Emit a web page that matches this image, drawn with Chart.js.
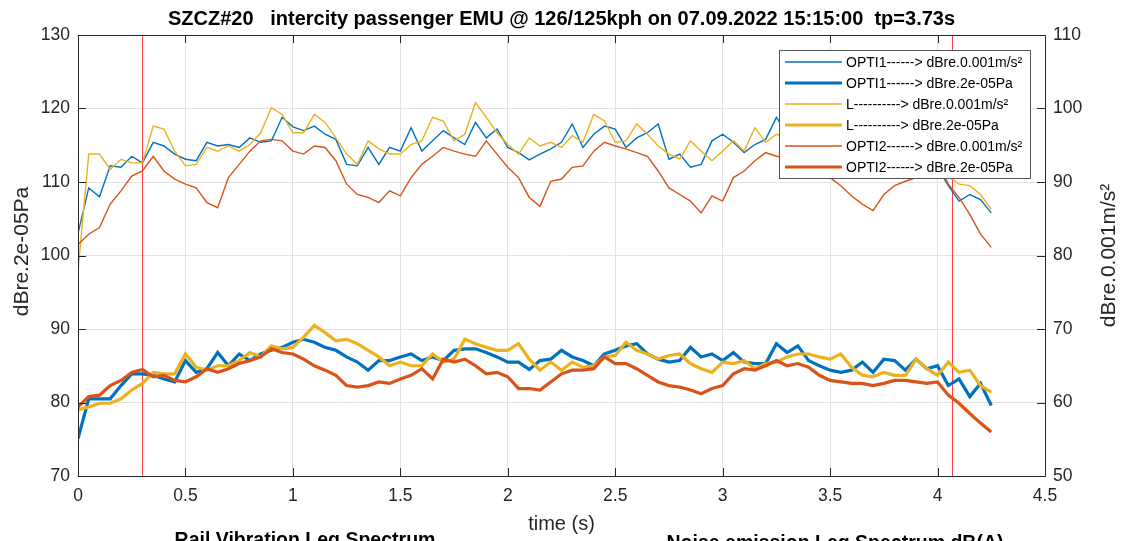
<!DOCTYPE html>
<html>
<head>
<meta charset="utf-8">
<script src="https://cdn.jsdelivr.net/npm/chart.js@4.4.1/dist/chart.umd.min.js"></script>
<style>
html,body{margin:0;padding:0;background:#fff;overflow:hidden;}
#wrap{position:relative;width:1124px;height:541px;}
canvas{display:block;}
</style>
</head>
<body>
<div id="wrap"><canvas id="c" width="1124" height="541"></canvas></div>
<script>
// ---- data ----
const chartTitle = "SZCZ#20   intercity passenger EMU @ 126/125kph on 07.09.2022 15:15:00  tp=3.73s";
const xTitle = "time (s)";
const yLeftTitle = "dBre.2e-05Pa";
const yRightTitle = "dBre.0.001m/s\u00B2";
const bottomTitles = ["Rail Vibration Leq Spectrum", "Noise emission Leq Spectrum dB(A)"];
const xTicks = [0,0.5,1,1.5,2,2.5,3,3.5,4,4.5];
const yLeftTicks = [70,80,90,100,110,120,130];
const yRightTicks = [50,60,70,80,90,100,110];
const markers = [0.3, 4.065];

const times = [0,0.05,0.1,0.15,0.2,0.25,0.3,0.35,0.4,0.45,0.5,0.55,0.6,0.65,0.7,0.75,0.8,0.85,0.9,0.95,
1,1.05,1.1,1.15,1.2,1.25,1.3,1.35,1.4,1.45,1.5,1.55,1.6,1.65,1.7,1.75,1.8,1.85,1.9,1.95,
2,2.05,2.1,2.15,2.2,2.25,2.3,2.35,2.4,2.45,2.5,2.55,2.6,2.65,2.7,2.75,2.8,2.85,2.9,2.95,
3,3.05,3.1,3.15,3.2,3.25,3.3,3.35,3.4,3.45,3.5,3.55,3.6,3.65,3.7,3.75,3.8,3.85,3.9,3.95,
4,4.05,4.1,4.15,4.2,4.25];

// vibration (right axis, dBre.0.001m/s²)
const opti1Vib = [83,89.2,88,92.2,92,93.5,92.6,95.4,94.9,93.8,
93.1,92.9,95.4,94.9,95.1,94.7,96,95.4,95.6,98.8,
97.5,97,97.6,96.5,95.8,92.4,92.2,94.7,92.4,94.7,
94.2,97.4,94.2,95.6,97,96,95.1,98.1,96,97.2,
94.7,94,93,93.8,94.5,95.4,97.9,94.7,96.5,97.6,
97.2,94.7,96,96.7,97.9,93.1,93.8,92,92.4,95.6,
96.5,95.4,94,95.1,95.8,98.8,96.5,95.5,96,94.5,
95.5,96,94,93.5,94.5,95.5,96.5,95,94,93,
92,89.5,87.4,88.3,87.6,85.8];
const lVib = [77.9,93.8,93.8,91.7,93.1,92.6,92.6,97.6,97.2,94.2,
92.2,92.4,94.7,94.2,94.9,94.2,95.1,96.7,100.1,99.2,
96.7,96.7,99.2,98.1,96,93.8,92.4,95.6,94.5,93.8,
93.8,95.1,95.6,98.8,98.3,95.6,96.5,100.8,98.8,96.7,
95.1,93.8,96,94.9,95.4,94.7,96.3,95.4,99.2,98.3,
95.4,95.6,97.9,96.5,94.9,93.8,93.1,95.6,94.2,92.9,
94.2,95.6,94.2,97.4,95.4,96.5,96,97,95.5,96.5,
95,94.5,95.5,94,93.5,95,96,94.5,95.5,94,
92.5,90.8,89.7,89.5,88.3,86.3];
const opti2Vib = [81.5,82.9,83.8,87,88.8,90.8,91.5,93.5,91.5,90.4,
89.7,89.2,87.2,86.5,90.6,92.4,94.2,95.6,95.8,95.6,
94.2,93.8,94.9,94.7,92.9,89.7,88.3,87.9,87.2,88.8,
88.1,90.6,92.4,93.5,94.7,94.2,93.8,93.5,95.6,93.8,
92,90.6,87.9,86.7,90.1,90.4,92,92.2,94.2,95.4,
94.9,94.5,94,93.5,91.5,89.2,88.3,87.4,85.8,88.1,
87.4,90.6,91.5,92.9,94,93.5,93.3,93,92.5,91.5,
90.6,89.5,88.1,87,86.1,88.3,89.5,90.1,90.6,92,
93,89.7,87.9,85.6,82.9,81.1];

// noise (left axis, dBre.2e-05Pa)
const opti1Noise = [75.1,80.5,80.5,80.5,82.3,83.9,83.9,83.7,83.2,82.8,
85.7,84.1,84.6,86.8,85,86.6,85.7,86.6,87.1,87.5,
88.2,88.6,88.2,87.5,87.1,86.2,85.5,84.4,85.7,85.7,
86.2,86.6,85.7,86.2,85.7,87.1,87.3,87.3,86.8,86.2,
85.5,85.5,84.5,85.7,85.9,87.1,86.2,85.7,85,86.6,
87.1,87.7,88,86.6,85.9,85.5,85.7,87.5,86.2,86.6,
85.7,86.8,85.5,85.3,85.3,88,86.8,87.7,85.7,85,
84.4,84.1,84.4,85.5,84.1,85.9,85.7,84.4,85.9,84.6,
85,82.3,83.2,80.8,82.6,79.6];
const lNoise = [79,79.4,79.9,79.9,80.5,81.7,82.6,84.1,83.9,83.9,
86.6,84.8,84.4,85,85,85.7,86.8,86.2,87.7,87.3,
87.5,88.9,90.5,89.5,88.4,88.6,88,87.1,86.2,85,
85.5,85,85,86.6,85.5,85.9,88.6,88,87.5,87.1,
87.1,88,85.9,84.4,85.5,84.4,85.5,84.8,85,86.2,
86.4,88.2,87.1,86.6,85.9,86.4,86.6,85.3,84.6,84.1,
85.5,85.3,85.7,84.6,85.3,85.5,86.2,86.6,86.6,86.2,
85.9,86.6,84.8,83.7,83.5,84.1,83.7,83.7,85.9,84.6,
83.7,85.5,84.1,84.4,82.3,81.4];
const opti2Noise = [79.4,80.8,81,82.3,83,84.1,84.5,83.5,83.7,83,
82.8,83.5,84.6,84.1,84.6,85.3,85.7,86.2,87.3,86.8,
86.6,85.9,85,84.4,83.7,82.3,82.1,82.3,82.8,82.6,
83.2,83.7,84.6,83.2,85.9,85.5,85.9,85,83.9,84.1,
83.5,81.9,81.9,81.7,82.8,83.9,84.4,84.4,84.6,86.2,
85.3,85.3,84.6,83.7,82.8,82.3,82.1,81.7,81.2,81.9,
82.3,83.9,84.6,84.4,85,85.7,85,85.3,84.8,83.7,
83,82.8,82.6,82.6,82.3,82.6,83,83,82.8,82.6,
82.8,81,79.9,78.5,77.2,76];

const seriesLabels = [
  "OPTI1------> dBre.0.001m/s\u00B2",
  "OPTI1------> dBre.2e-05Pa",
  "L----------> dBre.0.001m/s\u00B2",
  "L----------> dBre.2e-05Pa",
  "OPTI2------> dBre.0.001m/s\u00B2",
  "OPTI2------> dBre.2e-05Pa"
];

// ---- build ----
const BLUE = "#0072BD", YEL = "#EDB120", ORG = "#D95319";
function pts(arr){ return arr.map((v,i)=>({x:times[i], y:v})); }
const seriesDefs = [
  {data:opti1Vib, color:BLUE, w:1.4, axis:"y1"},
  {data:opti1Noise, color:BLUE, w:3.2, axis:"y"},
  {data:lVib, color:YEL, w:1.4, axis:"y1"},
  {data:lNoise, color:YEL, w:3.2, axis:"y"},
  {data:opti2Vib, color:ORG, w:1.4, axis:"y1"},
  {data:opti2Noise, color:ORG, w:3.2, axis:"y"}
];
const datasets = seriesDefs.map((s,i)=>({
  label: seriesLabels[i],
  data: pts(s.data),
  borderColor: s.color,
  backgroundColor: s.color,
  borderWidth: s.w,
  pointRadius: 0,
  tension: 0,
  fill: false,
  yAxisID: s.axis,
  order: seriesDefs.length - i
}));

const FONT = "'Liberation Sans', Arial, Helvetica, sans-serif";
const AX = "#262626";

const decor = {
  id: "decor",
  beforeDatasetsDraw(chart){
    const {ctx, chartArea:a, scales} = chart;
    ctx.save();
    ctx.strokeStyle = "#FF4040";
    ctx.lineWidth = 1;
    markers.forEach(m=>{
      const x = Math.round(scales.x.getPixelForValue(m)) + 0.5;
      ctx.beginPath(); ctx.moveTo(x, a.top); ctx.lineTo(x, a.bottom); ctx.stroke();
    });
    ctx.restore();
  },
  afterDraw(chart){
    const {ctx, chartArea:a, scales} = chart;
    ctx.save();
    // frame
    ctx.strokeStyle = AX; ctx.lineWidth = 1;
    ctx.strokeRect(Math.round(a.left)+0.5, Math.round(a.top)+0.5, Math.round(a.right-a.left), Math.round(a.bottom-a.top));
    // inward ticks
    const tl = 8;
    ctx.beginPath();
    xTicks.forEach(v=>{
      const x = Math.round(scales.x.getPixelForValue(v))+0.5;
      ctx.moveTo(x, a.bottom); ctx.lineTo(x, a.bottom - tl);
      ctx.moveTo(x, a.top); ctx.lineTo(x, a.top + tl);
    });
    yLeftTicks.forEach(v=>{
      const y = Math.round(scales.y.getPixelForValue(v))+0.5;
      ctx.moveTo(a.left, y); ctx.lineTo(a.left + tl, y);
    });
    yRightTicks.forEach(v=>{
      const y = Math.round(scales.y1.getPixelForValue(v))+0.5;
      ctx.moveTo(a.right, y); ctx.lineTo(a.right - tl, y);
    });
    ctx.stroke();

    // title
    ctx.fillStyle = "#000";
    ctx.textAlign = "center"; ctx.textBaseline = "alphabetic";
    ctx.font = "bold 20px " + FONT;
    ctx.fillText(chartTitle, (a.left+a.right)/2, 25);
    // x title
    ctx.font = "20px " + FONT;
    ctx.fillStyle = "#262626";
    ctx.fillText(xTitle, (a.left+a.right)/2, 530);
    // y titles
    ctx.font = "21px " + FONT;
    ctx.save();
    ctx.translate(28, (a.top+a.bottom)/2 - 4);
    ctx.rotate(-Math.PI/2);
    ctx.fillText(yLeftTitle, 0, 0);
    ctx.restore();
    ctx.save();
    ctx.translate(1115, (a.top+a.bottom)/2);
    ctx.rotate(-Math.PI/2);
    ctx.fillText(yRightTitle, 0, 0);
    ctx.restore();
    // cut-off subplot titles
    ctx.fillStyle = "#000";
    ctx.font = "bold 19.5px " + FONT;
    ctx.fillText(bottomTitles[0], 305, 546);
    ctx.fillText(bottomTitles[1], 835, 549);

    // legend
    const lx = 779, ly = 50, lw = 251, lh = 128;
    ctx.fillStyle = "#fff";
    ctx.fillRect(lx, ly, lw, lh);
    ctx.strokeStyle = "#555"; ctx.lineWidth = 1;
    ctx.strokeRect(lx+0.5, ly+0.5, lw, lh);
    ctx.font = "14px " + FONT;
    ctx.textAlign = "left"; ctx.textBaseline = "middle";
    chart.data.datasets.forEach((d,i)=>{
      const y = ly + 12 + i*21;
      ctx.strokeStyle = d.borderColor; ctx.lineWidth = d.borderWidth;
      ctx.beginPath(); ctx.moveTo(lx+6, y); ctx.lineTo(lx+63, y); ctx.stroke();
      ctx.fillStyle = "#000";
      ctx.fillText(d.label, lx+67, y+1);
    });
    ctx.restore();
  }
};

new Chart(document.getElementById("c"), {
  type: "line",
  data: { datasets },
  options: {
    responsive: false,
    animation: false,
    devicePixelRatio: 1,
    layout: { padding: { top: 35, left: 0, right: 0, bottom: 0 } },
    plugins: { legend: { display: false }, title: { display: false }, tooltip: { enabled: false } },
    scales: {
      x: {
        type: "linear", min: 0, max: 4.5,
        afterBuildTicks: s => { s.ticks = xTicks.map(v=>({value:v})); },
        afterFit: s => { s.height = 65; },
        grid: { color: "#e2e2e2", drawTicks: false, lineWidth: 1 },
        border: { display: false },
        ticks: { padding: 10, color: "#262626", font: { family: FONT, size: 17.5 }, maxRotation: 0,
                 callback: v => String(v) }
      },
      y: {
        position: "left", min: 70, max: 130,
        afterBuildTicks: s => { s.ticks = yLeftTicks.map(v=>({value:v})); },
        afterFit: s => { s.width = 78; },
        grid: { color: "#e2e2e2", drawTicks: false, lineWidth: 1 },
        border: { display: false },
        ticks: { padding: 8, color: "#262626", font: { family: FONT, size: 17.5 } }
      },
      y1: {
        position: "right", min: 50, max: 110,
        afterBuildTicks: s => { s.ticks = yRightTicks.map(v=>({value:v})); },
        afterFit: s => { s.width = 79; },
        grid: { display: false, drawTicks: false },
        border: { display: false },
        ticks: { padding: 8, color: "#262626", font: { family: FONT, size: 17.5 } }
      }
    }
  },
  plugins: [decor]
});
</script>
</body>
</html>
